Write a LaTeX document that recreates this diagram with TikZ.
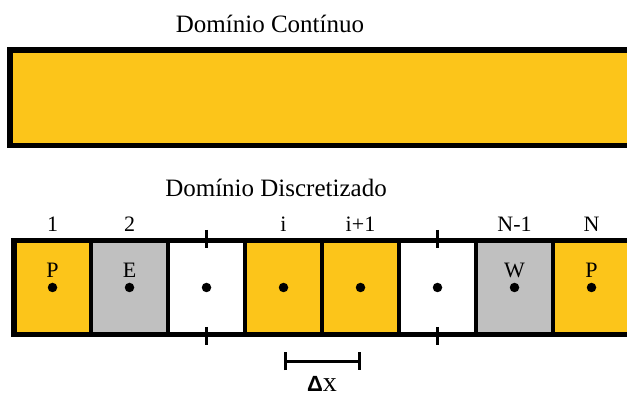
\documentclass[tikz,border=0pt]{standalone}
\usepackage{fontspec}
\setmainfont{Liberation Serif}
\setsansfont{Liberation Sans}
\usetikzlibrary{positioning}
\usetikzlibrary{arrows.meta}
\usetikzlibrary{calc}
\definecolor{amarelo}{RGB}{252,197,26}
\definecolor{cinza}{RGB}{192,192,192}

\begin{document}
\begin{tikzpicture}[
    x=1pt,y=-1pt,
    node distance=0pt,
    vol/.style={rectangle,draw=black,line width=3.8pt,minimum width=77pt,minimum height=94pt,inner sep=0pt,outer sep=0pt},
    pto/.style={circle,fill=black,minimum size=9.5pt,inner sep=0pt},
    num/.style={inner sep=0pt,font=\fontsize{22}{22}\selectfont},
    letra/.style={inner sep=0pt,font=\fontsize{22}{22}\selectfont},
    titulo/.style={inner sep=0pt,anchor=base,font=\fontsize{25}{25}\selectfont},
    borda/.style={draw=black,line width=5.5pt},
    marca/.style={line width=3pt}
    ]
    \useasboundingbox (0,0) rectangle (627,398);
    \clip (0,0) rectangle (627,398);
    % dominio continuo
    \node (tcont) [titulo] at (270,33) {Domínio Contínuo};
    \draw[borda,fill=amarelo] (10,50) rectangle (680,145.5);
    % dominio discretizado
    \node (tdisc) [titulo] at (276,197) {Domínio Discretizado};
    \node (v1) [vol,fill=amarelo] at (52.5,287.5) {};
    \node (v2) [vol,fill=cinza,right=of v1] {};
    \node (v3) [vol,fill=white,right=of v2] {};
    \node (v4) [vol,fill=amarelo,right=of v3] {};
    \node (v5) [vol,fill=amarelo,right=of v4] {};
    \node (v6) [vol,fill=white,right=of v5] {};
    \node (v7) [vol,fill=cinza,right=of v6] {};
    \node (v8) [vol,fill=amarelo,right=of v7] {};
    \draw[borda] (v1.north west) rectangle (v8.south east);
    \foreach \i in {1,...,8}
        \node (p\i) [pto] at (v\i.center) {};
    \node (n1) [num,above=9pt of v1] {1};
    \node (n2) [num,above=9pt of v2] {2};
    \node (n4) [num,above=9pt of v4] {i};
    \node (n5) [num,above=9pt of v5] {i+1};
    \node (n7) [num,above=9pt of v7] {N-1};
    \node (n8) [num,above=9pt of v8] {N};
    \node (l1) [letra,above=5pt of p1] {P};
    \node (l2) [letra,above=5pt of p2] {E};
    \node (l7) [letra,above=5pt of p7] {W};
    \node (l8) [letra,above=5pt of p8] {P};
    % marcas das faces
    \foreach \v in {v3,v6} {
        \draw[marca] ([yshift=10.5pt]\v.north) -- ([yshift=-7.5pt]\v.north);
        \draw[marca] ([yshift=7.5pt]\v.south) -- ([yshift=-10.5pt]\v.south);
    }
    % delta x
    \coordinate (dxa) at ([yshift=-26.5pt]v4.south);
    \coordinate (dxb) at ([yshift=-26.5pt]v5.south);
    \draw[marca,{Bar[width=18pt]}-{Bar[width=18pt]}] (dxa) -- (dxb);
    \node (dx) [inner sep=0pt,below=15pt of {$(dxa)!0.5!(dxb)$}]
        {\fontsize{22}{22}\selectfont\textsf{\textbf{Δ}}\fontsize{28}{28}\selectfont x};
\end{tikzpicture}
\end{document}
